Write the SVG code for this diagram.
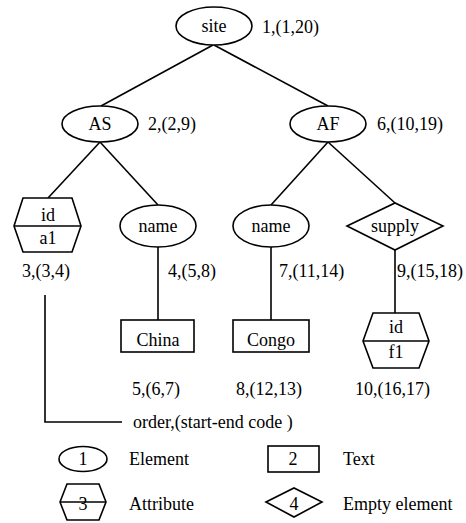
<svg xmlns="http://www.w3.org/2000/svg" width="466" height="523" viewBox="0 0 466 523">
<style>
.s{fill:#fff;stroke:#000;stroke-width:1.6}
.l{fill:none;stroke:#000;stroke-width:1.6}
text{font-family:'Liberation Serif',serif;font-size:18px;fill:#000}
.c{text-anchor:middle}
</style>
<rect width="466" height="523" fill="#fff"/>
<g id="connectors">
<line class="l" x1="213" y1="45" x2="101" y2="106"/>
<line class="l" x1="214" y1="45" x2="328" y2="106"/>
<line class="l" x1="100" y1="142" x2="48" y2="198"/>
<line class="l" x1="100" y1="142" x2="158" y2="205"/>
<line class="l" x1="328" y1="142" x2="271" y2="205"/>
<line class="l" x1="328" y1="142" x2="395" y2="203"/>
<line class="l" x1="158" y1="247" x2="158" y2="320"/>
<line class="l" x1="271" y1="247" x2="271" y2="320"/>
<line class="l" x1="395" y1="250" x2="395" y2="313"/>
<polyline class="l" points="45,295 45,422 122,422"/>
</g>
<g id="site">
<ellipse class="s" cx="214" cy="26" rx="38" ry="19"/>
<text class="c" x="214" y="32" font-family="Liberation Serif">site</text>
<text x="262" y="33" font-family="Liberation Serif">1,(1,20)</text>
</g>
<g id="AS">
<ellipse class="s" cx="100" cy="124" rx="38" ry="18"/>
<text class="c" x="100" y="130" font-family="Liberation Serif">AS</text>
<text x="148" y="130" font-family="Liberation Serif">2,(2,9)</text>
</g>
<g id="AF">
<ellipse class="s" cx="328" cy="124" rx="38" ry="18"/>
<text class="c" x="328" y="130" font-family="Liberation Serif">AF</text>
<text x="377" y="130" font-family="Liberation Serif">6,(10,19)</text>
</g>
<g id="attr-id-a1">
<polygon class="s" points="14,226 23,198 72,198 81,226 72,252 23,252"/>
<line class="l" x1="14" y1="226" x2="81" y2="226"/>
<text class="c" x="48" y="221" font-family="Liberation Serif">id</text>
<text class="c" x="48" y="244" font-family="Liberation Serif">a1</text>
<text x="22" y="277" font-family="Liberation Serif">3,(3,4)</text>
</g>
<g id="name1">
<ellipse class="s" cx="158" cy="226" rx="38" ry="21"/>
<text class="c" x="158" y="232" font-family="Liberation Serif">name</text>
<text x="168" y="277" font-family="Liberation Serif">4,(5,8)</text>
</g>
<g id="name2">
<ellipse class="s" cx="271" cy="226" rx="38" ry="21"/>
<text class="c" x="271" y="232" font-family="Liberation Serif">name</text>
<text x="279" y="277" font-family="Liberation Serif">7,(11,14)</text>
</g>
<g id="supply">
<polygon class="s" points="347,226 395,203 443,226 395,250"/>
<text class="c" x="395" y="232" font-family="Liberation Serif">supply</text>
<text x="397" y="277" font-family="Liberation Serif">9,(15,18)</text>
</g>
<g id="china">
<rect class="s" x="121" y="320" width="73" height="32"/>
<text class="c" x="158" y="346" font-family="Liberation Serif">China</text>
<text x="132" y="395" font-family="Liberation Serif">5,(6,7)</text>
</g>
<g id="congo">
<rect class="s" x="233" y="320" width="76" height="32"/>
<text class="c" x="271" y="346" font-family="Liberation Serif">Congo</text>
<text x="236" y="395" font-family="Liberation Serif">8,(12,13)</text>
</g>
<g id="attr-id-f1">
<polygon class="s" points="363,341 373,313 419,313 429,341 419,368 373,368"/>
<line class="l" x1="363" y1="341" x2="429" y2="341"/>
<text class="c" x="396" y="333" font-family="Liberation Serif">id</text>
<text class="c" x="396" y="358" font-family="Liberation Serif">f1</text>
<text x="355" y="395" font-family="Liberation Serif">10,(16,17)</text>
</g>
<g id="caption">
<text x="133" y="428" font-family="Liberation Serif">order,(start-end code )</text>
</g>
<g id="legend-element">
<ellipse class="s" cx="83" cy="459" rx="24" ry="12.5"/>
<text class="c" x="83" y="465" font-family="Liberation Serif">1</text>
<text x="129" y="465" font-family="Liberation Serif">Element</text>
</g>
<g id="legend-text">
<rect class="s" x="268" y="446" width="51" height="26"/>
<text class="c" x="293" y="465" font-family="Liberation Serif">2</text>
<text x="343" y="465" font-family="Liberation Serif">Text</text>
</g>
<g id="legend-attribute">
<polygon class="s" points="60,502 67,484 99,484 106,502 99,520 67,520"/>
<text class="c" x="83" y="510" font-family="Liberation Serif">3</text>
<line class="l" x1="60" y1="502" x2="106" y2="502"/>
<text x="129" y="510" font-family="Liberation Serif">Attribute</text>
</g>
<g id="legend-empty">
<polygon class="s" points="266,502 294,488 322,502 294,517"/>
<text class="c" x="294" y="510" font-family="Liberation Serif">4</text>
<text x="343" y="510" font-family="Liberation Serif">Empty element</text>
</g>
</svg>
